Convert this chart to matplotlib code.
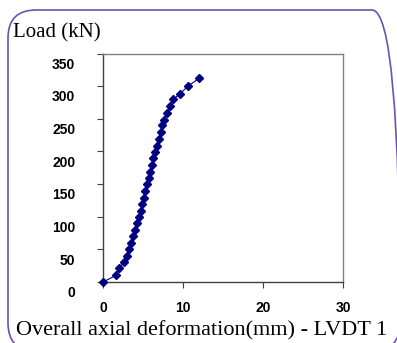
import matplotlib
matplotlib.use("Agg")
import matplotlib.pyplot as plt
import matplotlib.transforms as mtransforms
from matplotlib.patches import FancyBboxPatch

# Load vs deformation readings (LVDT 1)
deformation = [0.0, 1.6, 2.0, 2.6, 3.0, 3.2, 3.5, 3.7, 4.0, 4.2, 4.5, 4.7, 4.9,
               5.1, 5.3, 5.5, 5.7, 5.9, 6.1, 6.3, 6.5, 6.8, 7.0, 7.2, 7.4, 7.6,
               8.0, 8.4, 8.8, 9.6, 10.6, 12.0]
load = [0, 10, 21, 30, 40, 50, 60, 70, 80, 90, 100, 109, 119,
        129, 140, 150, 159, 169, 179, 190, 199, 209, 219, 230, 240, 248,
        259, 269, 280, 288, 300, 312]

x_ticks = [0, 10, 20, 30]
y_ticks = [0, 50, 100, 150, 200, 250, 300, 350]

fig = plt.figure(figsize=(3.97, 3.43), dpi=100)
ax = fig.add_axes([0.2594, 0.1778, 0.6046, 0.6659])

ax.plot(deformation, load, color='#000080', lw=0.8, marker='D',
        markersize=4.4, markerfacecolor='#000080', markeredgecolor='#000080',
        clip_on=False, zorder=3)

ax.set_xlim(0, 30)
ax.set_ylim(0, 350)
ax.set_xticks(x_ticks)
ax.set_yticks(y_ticks)
for s in ax.spines.values():
    s.set_color('#808080')
    s.set_linewidth(1.0)
ax.spines['left'].set_color('#404040')
ax.spines['bottom'].set_color('#404040')
ax.tick_params(direction='out', length=4, width=0.8, color='#404040',
               labelsize=10, pad=10)
ax.tick_params(axis='y', pad=16)
for lab in ax.get_xticklabels() + ax.get_yticklabels():
    lab.set_fontfamily('Liberation Sans')
    lab.set_fontweight('bold')
off = mtransforms.ScaledTranslation(0, -7 / 72, fig.dpi_scale_trans)
for lab in ax.get_yticklabels():
    lab.set_transform(lab.get_transform() + off)

fig.text(13 / 397, 1 - 33 / 343, "Load (kN)", family='Liberation Serif',
         fontsize=15, va='center', ha='left')
fig.text(16 / 397, 1 - 331 / 343, "Overall axial deformation(mm) - LVDT 1",
         family='Liberation Serif', fontsize=16, va='center', ha='left')

# rounded frame around the chart
frame = FancyBboxPatch((8, -8), 392, 341, boxstyle="round,pad=0,rounding_size=28",
                       transform=None, fill=False, edgecolor='#7050b0', lw=1.2)
fig.patches.append(frame)

fig.savefig("out.png", dpi=100)
